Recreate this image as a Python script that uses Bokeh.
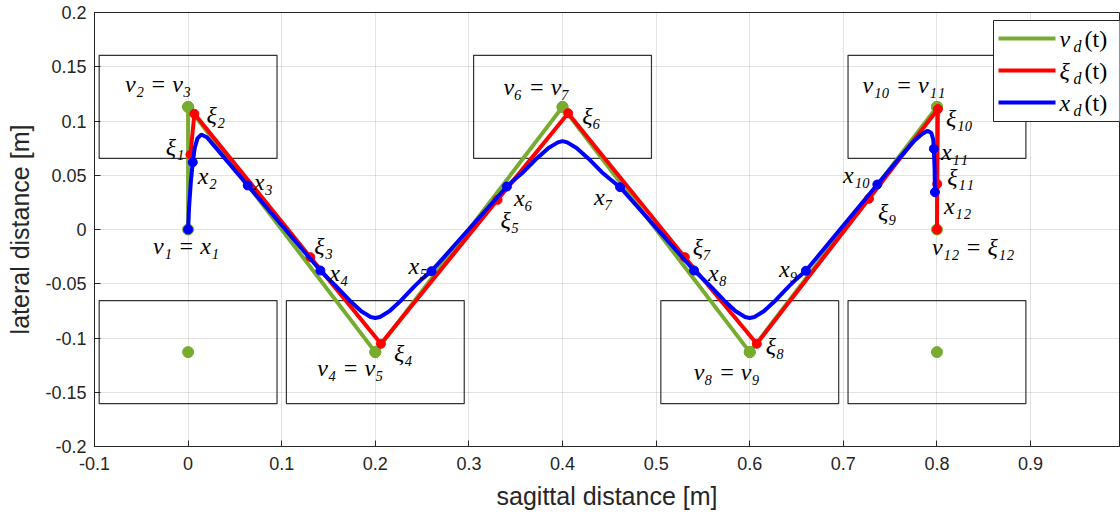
from bokeh.plotting import figure
from bokeh.models import (ColumnDataSource, Range1d, FixedTicker,
                          Label, Arrow, BoxAnnotation)
from bokeh.core.properties import value
from bokeh.embed import file_html
from bokeh.resources import INLINE

# ---------------- data ----------------
# footstep centres (upper row: left foot, lower row: right foot) and footprint size [m]
foot_x = [0.0, 0.4, 0.8, 0.0, 0.2, 0.6, 0.8]
foot_y = [0.113, 0.113, 0.113, -0.113, -0.113, -0.113, -0.113]
foot_len = 0.19
foot_wid = 0.095

# VRP waypoints v_d
vd_x = [0.0, 0.0, 0.2, 0.4, 0.6, 0.8, 0.8]
vd_y = [0.0, 0.113, -0.113, 0.113, -0.113, 0.113, 0.0]

# DCM waypoints xi_d (xi_1 ... xi_12)
xi_x = [0.0025, 0.0067, 0.1306, 0.206, 0.3306, 0.406, 0.5306, 0.6075, 0.7274, 0.801, 0.8003, 0.8]
xi_y = [0.069, 0.1066, -0.0255, -0.1053, 0.0274, 0.1072, -0.0255, -0.1053, 0.0283, 0.111, 0.042, 0.0]

# CoM trajectory x_d(t)
com_x = [0.0, 0.001, 0.003, 0.005, 0.007, 0.010, 0.014, 0.020, 0.030, 0.0637, 0.1413,
         0.150, 0.158, 0.1725, 0.185, 0.195, 0.200, 0.205, 0.215, 0.2275, 0.242, 0.250, 0.260, 0.3406,
         0.350, 0.358, 0.3725, 0.385, 0.395, 0.400, 0.405, 0.415, 0.4275, 0.442, 0.450, 0.4615, 0.5405,
         0.550, 0.558, 0.5725, 0.585, 0.595, 0.600, 0.605, 0.615, 0.6275, 0.642, 0.650, 0.660, 0.7363,
         0.760, 0.775, 0.784, 0.790, 0.794, 0.796, 0.7967, 0.7975, 0.7978]
com_y = [0.0, 0.020, 0.045, 0.062, 0.075, 0.084, 0.0875, 0.085, 0.075, 0.0406, -0.0378,
         -0.0455, -0.0522, -0.0654, -0.0754, -0.0807, -0.0815, -0.0807, -0.0754, -0.0654, -0.0522, -0.0455, -0.0384, 0.0396,
         0.047, 0.0528, 0.0655, 0.0752, 0.0803, 0.0815, 0.0803, 0.0752, 0.0655, 0.0528, 0.047, 0.039, -0.0378,
         -0.0455, -0.0522, -0.0654, -0.0754, -0.0807, -0.0815, -0.0807, -0.0754, -0.0654, -0.0522, -0.0455, -0.038, 0.0415,
         0.066, 0.081, 0.088, 0.091, 0.089, 0.083, 0.0744, 0.055, 0.0344]

# CoM waypoints x_1 ... x_12
cw_x = [0.0, 0.005, 0.0637, 0.1413, 0.260, 0.3406, 0.4615, 0.5405, 0.660, 0.7363, 0.7967, 0.7978]
cw_y = [0.0, 0.062, 0.0406, -0.0378, -0.0384, 0.0396, 0.039, -0.0378, -0.038, 0.0415, 0.0744, 0.0344]

# point annotations
vd_text = ["v₁ = x₁", "v₂ = v₃", "v₄ = v₅", "v₆ = v₇", "v₈ = v₉", "v₁₀ = v₁₁", "v₁₂ = ξ₁₂"]
xi_text = ["ξ₁", "ξ₂", "ξ₃", "ξ₄", "ξ₅", "ξ₆", "ξ₇", "ξ₈", "ξ₉", "ξ₁₀", "ξ₁₁"]
cw_text = ["x₂", "x₃", "x₄", "x₅", "x₆", "x₇", "x₈", "x₉", "x₁₀", "x₁₁", "x₁₂"]

x_ticks = [-0.1, 0, 0.1, 0.2, 0.3, 0.4, 0.5, 0.6, 0.7, 0.8, 0.9]
x_tick_labels = ["-0.1", "0", "0.1", "0.2", "0.3", "0.4", "0.5", "0.6", "0.7", "0.8", "0.9"]
y_ticks = [-0.2, -0.15, -0.1, -0.05, 0, 0.05, 0.1, 0.15, 0.2]
y_tick_labels = ["-0.2", "-0.15", "-0.1", "-0.05", "0", "0.05", "0.1", "0.15", "0.2"]

# ---------------- style ----------------
GREEN, RED, BLUE = "#77AC30", "#FF0000", "#0000FF"
AX = "#262626"
SANS = "Liberation Sans"
SERIF = "Liberation Serif"
LBL_SIZE = "24px"

# label placement: (align, dx, dy) pixel offsets from the annotated point
vd_place = [("center", -2, 16), ("center", -30, -23), ("center", -25, 16), ("center", -26, -20),
            ("center", -23, 20), ("center", -33, -22), ("left", -5, 17)]
xi_place = [("right", -6, -8), ("left", 12, 1), ("left", 4, -11), ("left", 13, 9), ("left", 3, 20),
            ("left", 14, 3), ("left", 8, -10), ("left", 9, 2), ("left", 9, 13), ("left", 8, 9),
            ("left", 10, -7)]
cw_place = [("left", 5, 14), ("left", 6, -3), ("left", 9, 2), ("right", -4, -5), ("left", 7, 11),
            ("right", -7, 10), ("left", 14, 2), ("right", -8, -2), ("right", -7, -9), ("left", 7, 3),
            ("left", 9, 14)]

W, H = 1120, 517
BORDER_L, BORDER_B = 94, 71

p = figure(width=W, height=H,
           x_range=Range1d(-0.1, 0.995), y_range=Range1d(-0.2, 0.2),
           output_backend="svg", toolbar_location=None,
           min_border_left=BORDER_L, min_border_right=1, min_border_top=12,
           min_border_bottom=BORDER_B,
           background_fill_color="white", border_fill_color="white")

p.outline_line_color = AX
p.outline_line_width = 1

# axes
for ax in (p.xaxis[0], p.yaxis[0]):
    ax.axis_line_color = AX
    ax.major_tick_line_color = AX
    ax.major_tick_in = 6
    ax.major_tick_out = 0
    ax.minor_tick_line_color = None
    ax.major_label_text_font = SANS
    ax.major_label_text_font_size = "18px"
    ax.major_label_text_color = AX
    ax.axis_label_text_font = SANS
    ax.axis_label_text_font_size = "25px"
    ax.axis_label_text_font_style = "normal"
    ax.axis_label_text_color = AX

p.xaxis.ticker = FixedTicker(ticks=x_ticks)
p.xaxis.major_label_overrides = dict(zip(x_ticks, x_tick_labels))
p.xaxis.axis_label = "sagittal distance [m]"
p.xaxis.major_label_standoff = 10
p.xaxis.axis_label_standoff = 9

p.yaxis.ticker = FixedTicker(ticks=y_ticks)
p.yaxis.major_label_overrides = dict(zip(y_ticks, y_tick_labels))
p.yaxis.axis_label = "lateral distance [m]"
p.yaxis.major_label_standoff = 8
p.yaxis.axis_label_standoff = 8

p.grid.grid_line_color = AX
p.grid.grid_line_alpha = 0.13
p.xgrid.ticker = FixedTicker(ticks=x_ticks)
p.ygrid.ticker = FixedTicker(ticks=y_ticks)

# footprints
p.rect(x=foot_x, y=foot_y, width=foot_len, height=foot_wid,
       fill_color=None, line_color="#333333", line_width=1.2)

# VRP
p.line(vd_x, vd_y, line_color=GREEN, line_width=4)
p.scatter(vd_x + foot_x, vd_y + foot_y, size=11, fill_color=GREEN, line_color=GREEN)

# DCM
p.line(xi_x, xi_y, line_color=RED, line_width=4)
p.scatter(xi_x, xi_y, size=9, fill_color=RED, line_color=RED)

# CoM
p.line(com_x, com_y, line_color=BLUE, line_width=4)
p.scatter(cw_x, cw_y, size=9, fill_color=BLUE, line_color=BLUE)


def add_labels(xs, ys, texts, place):
    for align in ("left", "right", "center"):
        sel = [i for i, pl in enumerate(place) if pl[0] == align]
        if not sel:
            continue
        src = ColumnDataSource(dict(
            x=[xs[i] for i in sel], y=[ys[i] for i in sel],
            t=[texts[i] for i in sel],
            dx=[place[i][1] for i in sel], dy=[place[i][2] for i in sel]))
        p.text(x="x", y="y", text="t", x_offset="dx", y_offset="dy", source=src,
               text_align=align, text_baseline="middle",
               text_font=value(SERIF), text_font_style="italic",
               text_font_size=LBL_SIZE, text_color="black")


add_labels(vd_x, vd_y, vd_text, vd_place)
add_labels(xi_x, xi_y, xi_text, xi_place)
add_labels(cw_x[1:], cw_y[1:], cw_text, cw_place)

# legend, placed in screen units (x from the frame's left edge, y up from its bottom)
FRAME_BOTTOM = H - BORDER_B


def sx(col):
    return col - BORDER_L


def sy(row):
    return FRAME_BOTTOM - row


p.add_layout(BoxAnnotation(left=sx(993), right=sx(W + 20), top=sy(20), bottom=sy(121),
                           left_units="screen", right_units="screen",
                           top_units="screen", bottom_units="screen",
                           fill_color="white", fill_alpha=1.0,
                           line_color=AX, line_width=1, line_alpha=1.0))

legend_rows = [(GREEN, "v", 38), (RED, "ξ", 70), (BLUE, "x", 102)]
for color, sym, row in legend_rows:
    p.add_layout(Arrow(end=None, x_start=sx(998), y_start=sy(row), x_end=sx(1055), y_end=sy(row),
                       start_units="screen", end_units="screen",
                       line_color=color, line_width=4))
    for txt, col, dy, size in ((sym, 1059, 0, "24px"), ("d", 1073, 8, "16px"), ("(t)", 1084, 0, "24px")):
        p.add_layout(Label(x=sx(col), y=sy(row + dy), x_units="screen", y_units="screen",
                           text=txt, text_align="left", text_baseline="middle",
                           text_font=SERIF,
                           text_font_style="normal" if txt == "(t)" else "italic",
                           text_font_size=size, text_color="black"))

open("out.html", "w").write(file_html(p, INLINE))
